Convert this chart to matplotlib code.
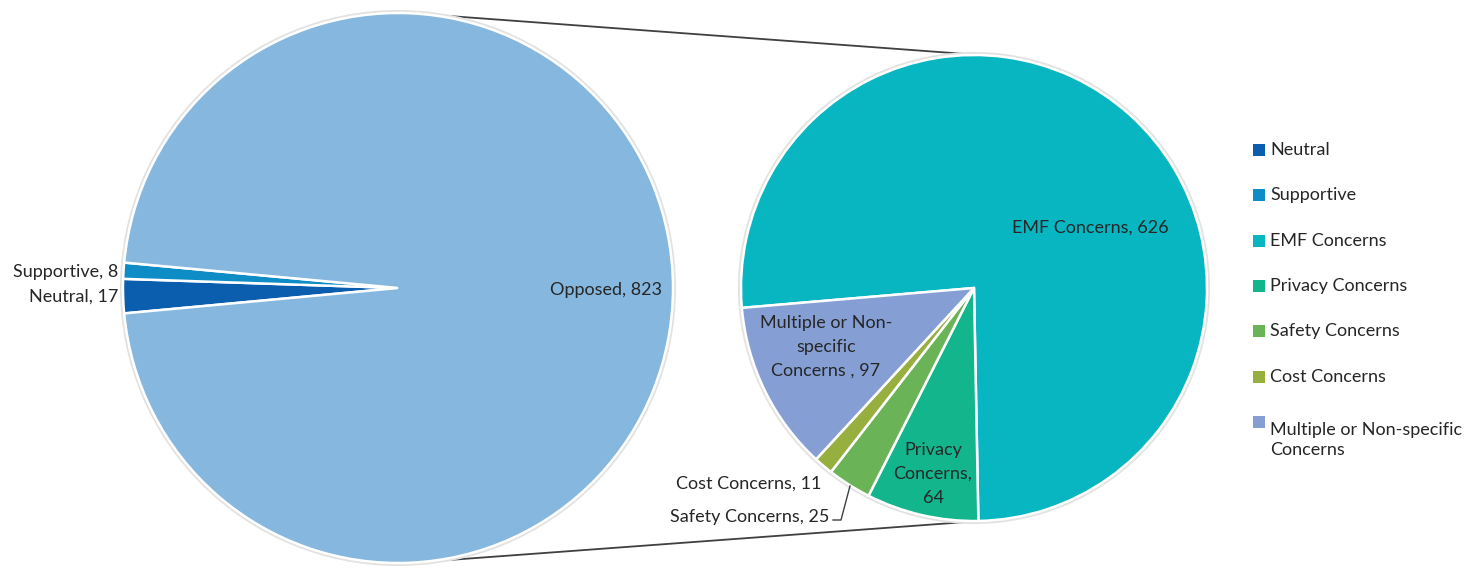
import matplotlib.pyplot as plt
from matplotlib.patches import Circle
import numpy as np

# main pie: overall stance
stance_labels = ["Neutral", "Supportive", "Opposed"]
stance_values = [17, 8, 823]
stance_colors = ["#0B5EAD", "#0E8CC6", "#85B7DF"]

# breakdown of the "Opposed" slice
concern_labels = ["EMF Concerns", "Privacy Concerns", "Safety Concerns",
                  "Cost Concerns", "Multiple or Non-specific Concerns"]
concern_values = [626, 64, 25, 11, 97]
concern_colors = ["#08B6C2", "#12B58C", "#6AB357", "#96AF3E", "#859FD5"]

W, H = 1468, 581
LEFT_C, LEFT_R = (398, 293), 275
RIGHT_C, RIGHT_R = (974, 293), 233
FONT = "Lato"
FS = 13
TXT = "#262626"


def draw_pie(ax, values, colors, center, radius, start):
    # thin grey rim under the wedges
    ax.add_patch(Circle(center, radius + 1.5, facecolor="none",
                        edgecolor="#e2e2e2", lw=2.2, zorder=1))
    ax.pie(values, colors=colors, center=center, radius=radius,
           startangle=start, counterclock=False,
           wedgeprops=dict(edgecolor="white", linewidth=1.8),
           frame=True)


def point_on(center, radius, angle):
    a = np.deg2rad(angle)
    return center[0] + radius * np.cos(a), center[1] + radius * np.sin(a)


def main():
    fig = plt.figure(figsize=(W / 100, H / 100), dpi=100)
    ax = fig.add_axes([0, 0, 1, 1])

    small = sum(stance_values[:2])
    left_start = 180 + small / sum(stance_values) * 360 / 2
    draw_pie(ax, stance_values, stance_colors, LEFT_C, LEFT_R, left_start)
    draw_pie(ax, concern_values, concern_colors, RIGHT_C, RIGHT_R, 184.9)

    ax.set_xlim(0, W)
    ax.set_ylim(0, H)
    ax.set_aspect("equal")
    ax.axis("off")

    # connector lines between the two pies
    for sign in (1, -1):
        x0, y0 = point_on(LEFT_C, LEFT_R, sign * 85.4)
        x1, y1 = point_on(RIGHT_C, RIGHT_R, sign * 88.2)
        ax.plot([x0, x1], [y0, y1], color="#404040", lw=1.3, zorder=0)

    kw = dict(fontsize=FS, family=FONT, color=TXT)
    ax.text(606, H - 290, f"{stance_labels[2]}, {stance_values[2]}",
            ha="center", va="center", **kw)
    ax.text(118, H - 272, f"{stance_labels[1]}, {stance_values[1]}",
            ha="right", va="center", **kw)
    ax.text(118, H - 297, f"{stance_labels[0]}, {stance_values[0]}",
            ha="right", va="center", **kw)

    ax.text(1090, H - 228, f"{concern_labels[0]}, {concern_values[0]}",
            ha="center", va="center", **kw)
    ax.text(826, H - 347, f"Multiple or Non-\nspecific\nConcerns , {concern_values[4]}",
            ha="center", va="center", linespacing=1.62, **kw)
    ax.text(933, H - 474, f"Privacy\nConcerns,\n{concern_values[1]}",
            ha="center", va="center", linespacing=1.62, **kw)
    ax.text(821, H - 484, f"{concern_labels[3]}, {concern_values[3]}",
            ha="right", va="center", **kw)
    ax.text(829, H - 517, f"{concern_labels[2]}, {concern_values[2]}",
            ha="right", va="center", **kw)
    ax.plot([833, 841, 850], [H - 520, H - 520, H - 486],
            color="#404040", lw=1)

    # legend
    legend_labels = stance_labels[:2] + concern_labels
    legend_colors = stance_colors[:2] + concern_colors
    y = 150
    for lab, col in zip(legend_labels, legend_colors):
        ax.scatter([1259], [H - y], marker="s", s=75, color=col,
                   linewidths=0)
        if lab.startswith("Multiple"):
            lab = "Multiple or Non-specific\nConcerns"
        ax.text(1270, H - y, lab, ha="left", va="top" if "\n" in lab else "center",
                linespacing=1.3, **kw)
        y += 45.3

    fig.savefig("out.png", dpi=100)


if __name__ == "__main__":
    main()
